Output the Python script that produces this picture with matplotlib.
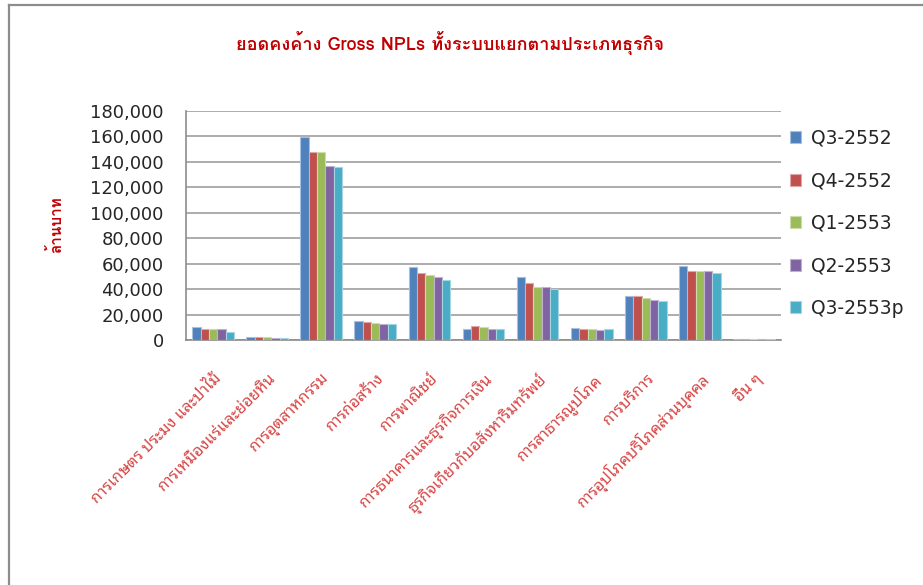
import matplotlib
matplotlib.use("Agg")
import matplotlib.pyplot as plt
from matplotlib.lines import Line2D
from matplotlib import font_manager as fm
import numpy as np

categories = [
    "การเกษตร ประมง และป่าไม้",
    "การเหมืองแร่และย่อยหิน",
    "การอุตสาหกรรม",
    "การก่อสร้าง",
    "การพาณิชย์",
    "การธนาคารและธุรกิจการเงิน",
    "ธุรกิจเกี่ยวกับอสังหาริมทรัพย์",
    "การสาธารณูปโภค",
    "การบริการ",
    "การอุปโภคบริโภคส่วนบุคคล",
    "อื่น ๆ",
]
series_names = ["Q3-2552", "Q4-2552", "Q1-2553", "Q2-2553", "Q3-2553p"]
q3_2552 = [9900, 2000, 159500, 15200, 57000, 8900, 49400, 9700, 34400, 58100, 1000]
q4_2552 = [8400, 2000, 147600, 14200, 52800, 10800, 44900, 8900, 34400, 54600, 1000]
q1_2553 = [8400, 2000, 147600, 13100, 51200, 10000, 41500, 8900, 33300, 54600, 1000]
q2_2553 = [8400, 1300, 137100, 12300, 49900, 8900, 41500, 7900, 31800, 54600, 1000]
q3_2553p = [6300, 1200, 136100, 12300, 47500, 8900, 40200, 8900, 30700, 52800, 1000]
yticks = [0, 20000, 40000, 60000, 80000, 100000, 120000, 140000, 160000, 180000]
title = "ยอดคงค้าง Gross NPLs ทั้งระบบแยกตามประเภทธุรกิจ"
ylabel = "ล้านบาท"

colors = ["#4F81BD", "#C0504D", "#9BBB59", "#8064A2", "#4BACC6"]
edge_colors = ["#A7C0DE", "#DFA8A6", "#CDDDAC", "#BFB1D0", "#A5D5E2"]

available = {f.name for f in fm.fontManager.ttflist}
def pick(names):
    return next((f for f in names if f in available), "DejaVu Sans")
label_font = pick(["Tahoma", "Noto Sans Thai Looped", "Loma", "Noto Sans Thai", "FreeSerif"])
title_font = pick(["Tahoma", "Loma", "Noto Sans Thai Looped", "Noto Sans Thai", "FreeSerif"])
label_family = [label_font, "DejaVu Sans"]
title_family = [title_font, "DejaVu Sans"]

fig = plt.figure(figsize=(9.23, 5.85), dpi=100)
ax = fig.add_axes([186 / 923, 1 - 340 / 585, (781 - 186) / 923, (340 - 111) / 585])

data = [q3_2552, q4_2552, q1_2553, q2_2553, q3_2553p]
x = np.arange(len(categories))
bw = 0.154
for i, (vals, c, ec, name) in enumerate(zip(data, colors, edge_colors, series_names)):
    ax.bar(x + (i - 2) * bw, vals, width=bw, color=c, edgecolor=ec, linewidth=0.8,
           label=name, zorder=3)

ax.set_xlim(-0.5, len(categories) - 0.5)
ax.set_ylim(0, 180000)
ax.set_yticks(yticks)
ax.set_yticklabels([f"{v:,}" for v in yticks], fontsize=13, color="#262626",
                   family="DejaVu Sans")
ax.yaxis.grid(True, color="#A6A6A6", linewidth=1.3, zorder=0)
ax.set_axisbelow(True)
ax.tick_params(axis="y", length=0, pad=16)
ax.tick_params(axis="x", length=0)
for s in ["top", "right"]:
    ax.spines[s].set_visible(False)
for s in ["left", "bottom"]:
    ax.spines[s].set_color("#8C8C8C")
    ax.spines[s].set_linewidth(1.2)

ax.set_xticks(x)
ax.set_xticklabels(categories, rotation=45, ha="right", va="top", rotation_mode="anchor",
                   fontsize=11.5, color="#D64545", family=label_family)
ax.tick_params(axis="x", pad=22)

fig.text(0.488, 1 - 43 / 585, title, ha="center", va="center", fontsize=13,
         fontweight="bold", color="#C00000", family=title_family)
fig.text(56 / 923, 1 - 225 / 585, ylabel, ha="center", va="center", rotation=90,
         fontsize=11, fontweight="bold", color="#C00000", family=title_family)

leg = ax.legend(loc="upper left", bbox_to_anchor=(790 / 923, 1 - 129 / 585),
                bbox_transform=fig.transFigure, frameon=False, fontsize=13.5,
                handlelength=0.6, handleheight=0.6, handletextpad=0.5,
                labelspacing=1.25, borderpad=0, borderaxespad=0)
for t in leg.get_texts():
    t.set_color("#262626")

fig.add_artist(Line2D([8.5 / 923, 8.5 / 923], [0, 1 - 4.5 / 585], transform=fig.transFigure,
                      color="#8C8C8C", linewidth=1.6))
fig.add_artist(Line2D([8.5 / 923, 1], [1 - 4.5 / 585, 1 - 4.5 / 585], transform=fig.transFigure,
                      color="#8C8C8C", linewidth=1.6))

fig.savefig("out.png", dpi=100)
